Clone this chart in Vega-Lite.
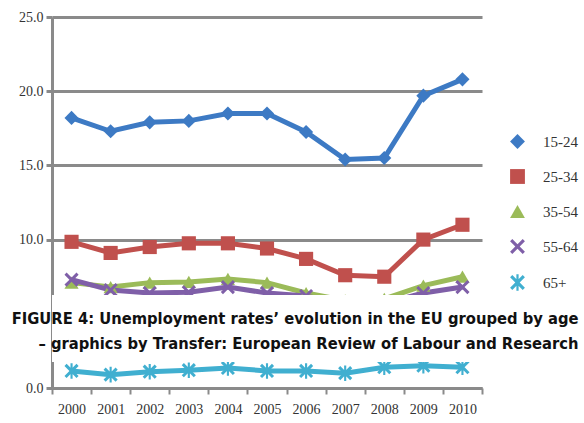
{
  "$schema": "https://vega.github.io/schema/vega-lite/v6.json",
  "width": 430,
  "height": 371,
  "autosize": "none",
  "padding": {"left": 52, "top": 17, "right": 102, "bottom": 35},
  "background": "white",
  "config": {
    "font": "Liberation Serif",
    "view": {"stroke": null},
    "legend": {"labelFont": "Liberation Serif", "labelFontSize": 15, "labelColor": "#333333"}
  },
  "data": {
    "values": [
      {"year": "2000", "age": "15-24", "rate": 18.2},
      {"year": "2001", "age": "15-24", "rate": 17.3},
      {"year": "2002", "age": "15-24", "rate": 17.9},
      {"year": "2003", "age": "15-24", "rate": 18.0},
      {"year": "2004", "age": "15-24", "rate": 18.5},
      {"year": "2005", "age": "15-24", "rate": 18.5},
      {"year": "2006", "age": "15-24", "rate": 17.25},
      {"year": "2007", "age": "15-24", "rate": 15.4},
      {"year": "2008", "age": "15-24", "rate": 15.5},
      {"year": "2009", "age": "15-24", "rate": 19.7},
      {"year": "2010", "age": "15-24", "rate": 20.8},
      {"year": "2000", "age": "25-34", "rate": 9.85},
      {"year": "2001", "age": "25-34", "rate": 9.1},
      {"year": "2002", "age": "25-34", "rate": 9.5},
      {"year": "2003", "age": "25-34", "rate": 9.75},
      {"year": "2004", "age": "25-34", "rate": 9.75},
      {"year": "2005", "age": "25-34", "rate": 9.4},
      {"year": "2006", "age": "25-34", "rate": 8.7},
      {"year": "2007", "age": "25-34", "rate": 7.6},
      {"year": "2008", "age": "25-34", "rate": 7.5},
      {"year": "2009", "age": "25-34", "rate": 10.0},
      {"year": "2010", "age": "25-34", "rate": 11.0},
      {"year": "2000", "age": "35-54", "rate": 7.1},
      {"year": "2001", "age": "35-54", "rate": 6.8},
      {"year": "2002", "age": "35-54", "rate": 7.1},
      {"year": "2003", "age": "35-54", "rate": 7.15},
      {"year": "2004", "age": "35-54", "rate": 7.35},
      {"year": "2005", "age": "35-54", "rate": 7.1},
      {"year": "2006", "age": "35-54", "rate": 6.4},
      {"year": "2007", "age": "35-54", "rate": 5.9},
      {"year": "2008", "age": "35-54", "rate": 6.0},
      {"year": "2009", "age": "35-54", "rate": 6.9},
      {"year": "2010", "age": "35-54", "rate": 7.5},
      {"year": "2000", "age": "55-64", "rate": 7.3},
      {"year": "2001", "age": "55-64", "rate": 6.6},
      {"year": "2002", "age": "55-64", "rate": 6.4},
      {"year": "2003", "age": "55-64", "rate": 6.45},
      {"year": "2004", "age": "55-64", "rate": 6.8},
      {"year": "2005", "age": "55-64", "rate": 6.4},
      {"year": "2006", "age": "55-64", "rate": 6.2},
      {"year": "2007", "age": "55-64", "rate": 5.6},
      {"year": "2008", "age": "55-64", "rate": 5.7},
      {"year": "2009", "age": "55-64", "rate": 6.4},
      {"year": "2010", "age": "55-64", "rate": 6.8},
      {"year": "2000", "age": "65+", "rate": 1.15},
      {"year": "2001", "age": "65+", "rate": 0.9},
      {"year": "2002", "age": "65+", "rate": 1.1},
      {"year": "2003", "age": "65+", "rate": 1.2},
      {"year": "2004", "age": "65+", "rate": 1.35},
      {"year": "2005", "age": "65+", "rate": 1.15},
      {"year": "2006", "age": "65+", "rate": 1.15},
      {"year": "2007", "age": "65+", "rate": 1.0},
      {"year": "2008", "age": "65+", "rate": 1.4},
      {"year": "2009", "age": "65+", "rate": 1.5},
      {"year": "2010", "age": "65+", "rate": 1.4}
    ]
  },
  "encoding": {
    "x": {
      "field": "year", "type": "ordinal", "title": null,
      "scale": {"paddingInner": 0, "paddingOuter": 0},
      "axis": {
        "labelAngle": 0, "grid": false, "domainColor": "#8a8a8a", "domainWidth": 3,
        "tickColor": "#8a8a8a", "tickWidth": 2, "tickSize": 6, "tickBand": "extent",
        "labelFont": "Liberation Serif", "labelFontSize": 14, "labelColor": "#333333", "labelPadding": 8
      }
    },
    "y": {
      "field": "rate", "type": "quantitative", "title": null,
      "scale": {"domain": [0, 25], "nice": false},
      "axis": {
        "values": [0, 10, 15, 20, 25], "format": ".1f",
        "grid": true, "gridColor": "#8a8a8a", "gridWidth": 3,
        "domainColor": "#8a8a8a", "domainWidth": 3,
        "tickColor": "#8a8a8a", "tickWidth": 3, "tickSize": 6,
        "labelFont": "Liberation Serif", "labelFontSize": 14, "labelColor": "#333333", "labelPadding": 3
      }
    },
    "color": {"field": "age", "type": "nominal",
      "scale": {"domain": ["15-24", "25-34", "35-54", "55-64", "65+"],
                "range": ["#3d7ac4", "#c0504d", "#9bbb59", "#7f5fa8", "#40afd0"]},
      "legend": {
        "title": null, "orient": "none", "legendX": 458, "legendY": 117,
        "labelFont": "Liberation Serif", "labelFontSize": 15, "labelColor": "#333333",
        "symbolSize": 220, "rowPadding": 19, "labelOffset": 18, "symbolOpacity": 1,
        "symbolStrokeWidth": 0
      }
    }
  },
  "layer": [
    {
      "mark": {"type": "line", "strokeWidth": 5}
    },
    {
      "mark": {"type": "point", "filled": true, "opacity": 1, "size": 200},
      "encoding": {
        "shape": {"field": "age", "type": "nominal",
          "scale": {"domain": ["15-24", "25-34", "35-54", "55-64", "65+"],
                    "range": ["diamond", "square", "triangle-up",
                              "M-0.7,-1L0,-0.3L0.7,-1L1,-0.7L0.3,0L1,0.7L0.7,1L0,0.3L-0.7,1L-1,0.7L-0.3,0L-1,-0.7Z",
                              "M-0.7,-1L0,-0.3L0.7,-1L1,-0.7L0.3,0L1,0.7L0.7,1L0,0.3L-0.7,1L-1,0.7L-0.3,0L-1,-0.7Z M-0.15,-1.1H0.15V1.1H-0.15Z"]},
          "legend": {
            "title": null, "orient": "none", "legendX": 458, "legendY": 117,
            "labelFont": "Liberation Serif", "labelFontSize": 15, "labelColor": "#333333",
            "symbolSize": 220, "rowPadding": 19, "labelOffset": 18, "symbolOpacity": 1,
            "symbolStrokeWidth": 0
          }
        }
      }
    },
    {
      "data": {"values": [{"top": 6.27, "bottom": 1.75}]},
      "mark": {"type": "rect", "fill": "white", "stroke": null},
      "encoding": {
        "color": {"value": "white"},
        "x": {"value": 0},
        "x2": {"value": 430},
        "y": {"field": "top", "type": "quantitative"},
        "y2": {"field": "bottom"}
      }
    },
    {
      "data": {"values": [{"yr": "2010", "pos": 4.3}]},
      "mark": {
        "type": "text", "align": "right", "baseline": "alphabetic",
        "font": "'Liberation Sans Narrow', 'DejaVu Sans Condensed', 'Liberation Sans', sans-serif", "fontWeight": "bold", "fontSize": 16.4,
        "lineHeight": 25, "dx": 116,
        "text": ["FIGURE 4: Unemployment rates\u2019 evolution in the EU grouped by age", "\u2013 graphics by Transfer: European Review of Labour and Research"]
      },
      "encoding": {
        "color": {"value": "#111111"},
        "x": {"field": "yr", "type": "ordinal"},
        "y": {"field": "pos", "type": "quantitative"}
      }
    }
  ]
}
